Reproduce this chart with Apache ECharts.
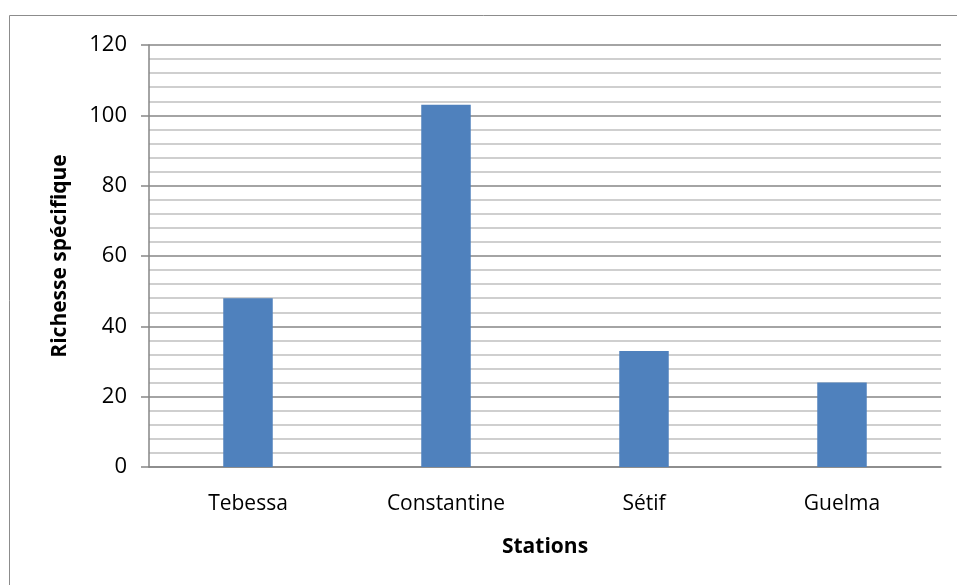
<!DOCTYPE html>
<html>
<head>
<meta charset="utf-8">
<script src="https://cdn.jsdelivr.net/npm/echarts@6/dist/echarts.min.js"></script>
<style>
  html, body { margin: 0; padding: 0; background: #fff; }
  #chart { width: 957px; height: 585px; }
</style>
</head>
<body>
<div id="chart"></div>
<script>
// station names and species richness
var stations = ['Tebessa', 'Constantine', 'Sétif', 'Guelma'];
var richesse = [48, 103, 33, 24];

var font = 'Open Sans, Liberation Sans, sans-serif';
var chart = echarts.init(document.getElementById('chart'));

chart.setOption({
  animation: false,
  graphic: [{
    type: 'rect',
    shape: { x: 9.5, y: 15.5, width: 1000, height: 1000 },
    style: { fill: 'none', stroke: '#8c8c8c', lineWidth: 1 },
    silent: true
  }],
  grid: { left: 149, right: 16, top: 45, bottom: 118 },
  xAxis: {
    type: 'category',
    data: stations,
    name: 'Stations',
    nameLocation: 'middle',
    nameGap: 70,
    nameTextStyle: { fontFamily: font, fontSize: 21, fontWeight: 'bold', color: '#000' },
    axisLine: { lineStyle: { color: '#868686', width: 1.5 } },
    axisTick: { show: false },
    axisLabel: { fontFamily: font, fontSize: 21, color: '#000', margin: 27 }
  },
  yAxis: {
    type: 'value',
    min: 0,
    max: 120,
    interval: 20,
    name: 'Richesse spécifique',
    nameLocation: 'middle',
    nameGap: 78,
    nameTextStyle: { fontFamily: font, fontSize: 21, fontWeight: 'bold', color: '#000' },
    axisLine: { show: true, lineStyle: { color: '#868686', width: 1.5 } },
    axisTick: { show: true, length: 8, lineStyle: { color: '#868686', width: 1.5 } },
    axisLabel: { fontFamily: font, fontSize: 22, color: '#000', margin: 22 },
    splitLine: { lineStyle: { color: '#868686', width: 1.5 } },
    minorTick: { show: false, splitNumber: 5 },
    minorSplitLine: { show: true, lineStyle: { color: '#c0c0c0', width: 1.5 } }
  },
  series: [{
    type: 'bar',
    data: richesse,
    barWidth: '25%',
    itemStyle: { color: '#4f81bd' }
  }]
});
</script>
</body>
</html>
